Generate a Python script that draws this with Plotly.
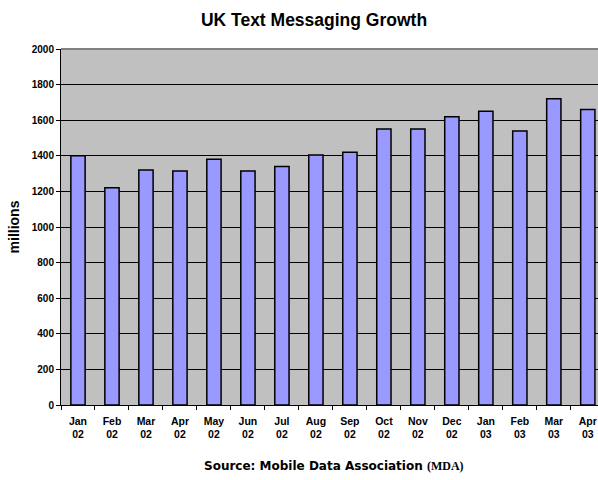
import plotly.graph_objects as go

months = ["Jan<br>02", "Feb<br>02", "Mar<br>02", "Apr<br>02", "May<br>02", "Jun<br>02",
          "Jul<br>02", "Aug<br>02", "Sep<br>02", "Oct<br>02", "Nov<br>02", "Dec<br>02",
          "Jan<br>03", "Feb<br>03", "Mar<br>03", "Apr<br>03"]
messages_millions = [1400, 1220, 1320, 1315, 1380, 1315, 1340, 1405, 1420,
                     1550, 1550, 1620, 1650, 1540, 1720, 1660]
y_ticks = [0, 200, 400, 600, 800, 1000, 1200, 1400, 1600, 1800, 2000]

FONT = "Arial, 'Liberation Sans', sans-serif"
W, H = 598, 480
L, T, B = 61, 49, 75

fig = go.Figure(go.Bar(
    x=months,
    y=messages_millions,
    width=0.42,
    marker=dict(color="#9999FF", line=dict(color="black", width=1.5)),
))

fig.update_layout(
    width=W, height=H,
    margin=dict(l=L, r=0, t=T, b=B, pad=0),
    paper_bgcolor="white",
    plot_bgcolor="#C0C0C0",
    showlegend=False,
    font=dict(family=FONT, color="black"),
    title=dict(
        text="UK Text Messaging Growth",
        font=dict(size=17.5, family=FONT, weight="bold"),
        x=314 / W, xanchor="center",
        y=1 - 20 / H, yanchor="middle", yref="container",
    ),
)

# category axis, ticks sit on the boundaries between months
fig.update_xaxes(
    type="category",
    tickson="boundaries",
    range=[-0.5, 15.3],
    showgrid=False,
    zeroline=False,
    showline=True, linecolor="black", linewidth=1,
    ticks="outside", ticklen=4, tickcolor="black", tickwidth=1,
    tickfont=dict(size=10.5, family=FONT, weight="bold"),
    tickangle=0,
    ticklabelstandoff=6,
)

fig.update_yaxes(
    range=[0, 2000],
    tickmode="array", tickvals=y_ticks,
    showgrid=True, gridcolor="black", gridwidth=1,
    zeroline=False,
    showline=True, linecolor="black", linewidth=1,
    ticks="outside", ticklen=4, tickcolor="black", tickwidth=1,
    tickfont=dict(size=10, family=FONT, weight="bold"),
    title=dict(text="millions", font=dict(size=14, family=FONT, weight="bold"), standoff=8),
)

# grey top border of the plot area
fig.add_shape(type="line", xref="paper", yref="paper", x0=0, x1=1, y0=1, y1=1,
              line=dict(color="#808080", width=2), layer="above")

fig.add_annotation(
    text="Source: Mobile Data Association <span style=\"font-family:'Liberation Serif', 'Times New Roman', serif\">(MDA)</span>",
    xref="paper", yref="paper",
    x=(334 - L) / (W - L), y=-(466 - (H - B)) / (H - T - B),
    xanchor="center", yanchor="middle", showarrow=False,
    font=dict(size=12, family="Verdana, 'DejaVu Sans', sans-serif", weight="bold", color="black"),
)

fig.write_html("out.html")
